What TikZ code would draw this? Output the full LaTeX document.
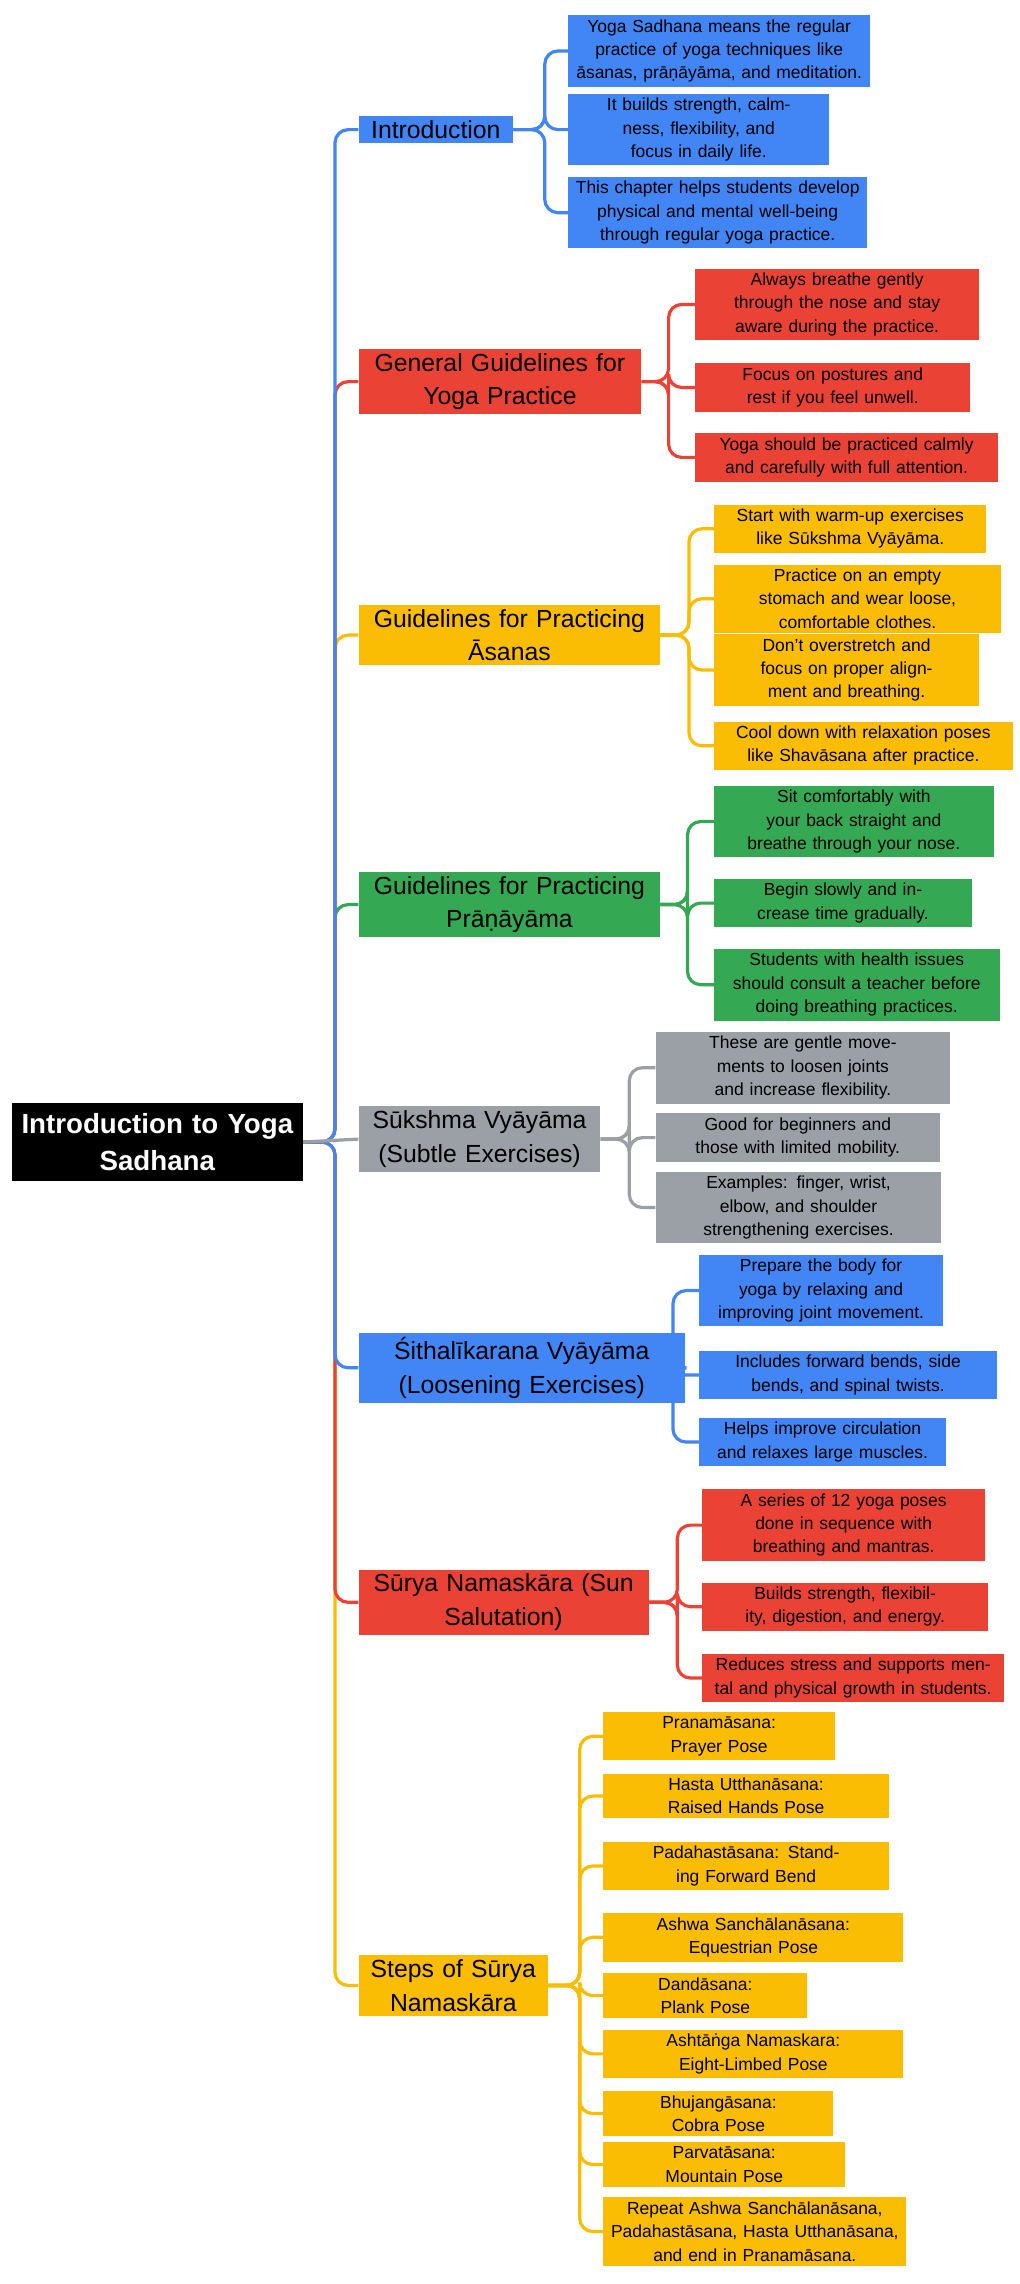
\documentclass[tikz,border=0pt]{standalone}
\usepackage{fontspec}
\setmainfont{Liberation Sans}
\usetikzlibrary{positioning,calc}
\definecolor{gblue}{HTML}{4285F4}
\definecolor{gred}{HTML}{EA4335}
\definecolor{gyellow}{HTML}{FBBC04}
\definecolor{ggreen}{HTML}{34A853}
\definecolor{ggray}{HTML}{9AA0A6}
\tikzset{
  rootbox/.style={fill=black, text=white, font=\fontsize{19}{25}\selectfont\bfseries, align=center, inner sep=3pt, minimum height=54pt, text width=194pt},
  mainbox/.style={fill=#1, anchor=west, font=\fontsize{17}{23}\selectfont, align=center, inner xsep=3pt, inner ysep=3pt},
  leafbox/.style={fill=#1, anchor=west, font=\fontsize{12}{16}\selectfont, align=center, inner xsep=5pt, inner ysep=3pt},
  link/.style={draw=#1, line width=2.2pt, rounded corners=9pt},
}
\begin{document}
\begin{tikzpicture}[x=1pt,y=-1pt]
\useasboundingbox (0,0) rectangle (700,1568);
\node[rootbox] (root) at (108,784) {Introduction to Yoga\\Sadhana};
\coordinate (trunk) at (230,784);

% main topics
\node[mainbox=gblue, text width=100pt] (intro) at (246,89) {Introduction};
\node[mainbox=gred, text width=188pt] (genguide) at (246,262) {General Guidelines for\\Yoga Practice};
\node[mainbox=gyellow, text width=201pt] (asana) at (246,436) {Guidelines for Practicing\\Āsanas};
\node[mainbox=ggreen, text width=201pt] (prana) at (246,621) {Guidelines for Practicing\\Prāṇāyāma};
\node[mainbox=ggray, text width=160pt] (sukshma) at (246,782) {Sūkshma Vyāyāma\\(Subtle Exercises)};
\node[mainbox=gblue, text width=218pt] (sithal) at (246,939) {Śithalīkarana Vyāyāma\\(Loosening Exercises)};
\node[mainbox=gred, text width=193pt] (surya) at (246,1100) {Sūrya Namaskāra (Sun\\Salutation)};
\node[mainbox=gyellow, text width=124pt] (steps) at (246,1363) {Steps of Sūrya\\Namaskāra};

\foreach \m/\c in {steps/gyellow,surya/gred,sithal/gblue,prana/ggreen,asana/gyellow,genguide/gred,intro/gblue}
  \draw[link=\c] (root.east) -- (trunk) |- (\m.west);
\draw[link=ggray] (root.east) -- (sukshma.west);

% leaves
\foreach \n/\y/\w/\t in {
  1/35/197/{Yoga Sadhana means the regular practice of yoga techniques like āsanas, prāṇāyāma, and meditation.},
  2/89/169/{It builds strength, calmness, flexibility, and focus in daily life.},
  3/146/195/{This chapter helps students develop physical and mental well-being through regular yoga practice.}}
  \node[leafbox=gblue, text width=\w pt] (intro-\n) at (390,\y) {\t};
\foreach \n/\y/\w/\t in {
  1/209/185/{Always breathe gently through the nose and stay aware during the practice.},
  2/266/179/{Focus on postures and rest if you feel unwell.},
  3/314/198/{Yoga should be practiced calmly and carefully with full attention.}}
  \node[leafbox=gred, text width=\w pt] (genguide-\n) at (477,\y) {\t};
\foreach \n/\y/\w/\t in {
  1/363/177/{Start with warm-up exercises like Sūkshma Vyāyāma.},
  2/411/187/{Practice on an empty stomach and wear loose, comfortable clothes.},
  3/460/172/{Don’t overstretch and focus on proper alignment and breathing.},
  4/512/195/{Cool down with relaxation poses like Shavāsana after practice.}}
  \node[leafbox=gyellow, text width=\w pt] (asana-\n) at (490,\y) {\t};
\foreach \n/\y/\w/\t in {
  1/564/182/{Sit comfortably with your back straight and breathe through your nose.},
  2/620/167/{Begin slowly and increase time gradually.},
  3/676/186/{Students with health issues should consult a teacher before doing breathing practices.}}
  \node[leafbox=ggreen, text width=\w pt] (prana-\n) at (490,\y) {\t};
\foreach \n/\y/\w/\t in {
  1/733/192/{These are gentle movements to loosen joints and increase flexibility.},
  2/781/185/{Good for beginners and those with limited mobility.},
  3/829/186/{Examples: finger, wrist, elbow, and shoulder strengthening exercises.}}
  \node[leafbox=ggray, text width=\w pt] (sukshma-\n) at (450,\y) {\t};
\foreach \n/\y/\w/\t in {
  1/886/157/{Prepare the body for yoga by relaxing and improving joint movement.},
  2/944/194/{Includes forward bends, side bends, and spinal twists.},
  3/990/159/{Helps improve circulation and relaxes large muscles.}}
  \node[leafbox=gblue, text width=\w pt] (sithal-\n) at (480,\y) {\t};
\foreach \n/\y/\w/\t in {
  1/1047/184/{A series of 12 yoga poses done in sequence with breathing and mantras.},
  2/1103/186/{Builds strength, flexibility, digestion, and energy.},
  3/1152/197/{Reduces stress and supports mental and physical growth in students.}}
  \node[leafbox=gred, text width=\w pt] (surya-\n) at (482,\y) {\t};
\foreach \n/\y/\w/\t in {
  1/1192/149/{Pranamāsana: Prayer Pose},
  2/1233/186/{Hasta Utthanāsana: Raised Hands Pose},
  3/1281/186/{Padahastāsana: Standing Forward Bend},
  4/1330/196/{Ashwa Sanchālanāsana: Equestrian Pose},
  5/1370/130/{Dandāsana: Plank Pose},
  6/1410/196/{Ashtāṅga Namaskara: Eight-Limbed Pose},
  7/1451/148/{Bhujangāsana: Cobra Pose},
  8/1486/156/{Parvatāsana: Mountain Pose},
  9/1532/198/{Repeat Ashwa Sanchālanāsana, Padahastāsana, Hasta Utthanāsana, and end in Pranamāsana.}}
  \node[leafbox=gyellow, text width=\w pt] (steps-\n) at (414,\y) {\t};

% connectors to leaves
\foreach \m/\c/\jx/\k in {intro/gblue/374/3, genguide/gred/459/3, asana/gyellow/473/4,
    prana/ggreen/472/3, sukshma/ggray/432/3, sithal/gblue/462/3, surya/gred/465/3, steps/gyellow/398/9}{
  \path let \p1=(\m.east) in coordinate (\m-j) at (\jx pt,\y1);
  \foreach \i in {1,...,\k}
    \draw[link=\c] (\m.east) -- (\m-j) |- (\m-\i.west);
}
\end{tikzpicture}
\end{document}
